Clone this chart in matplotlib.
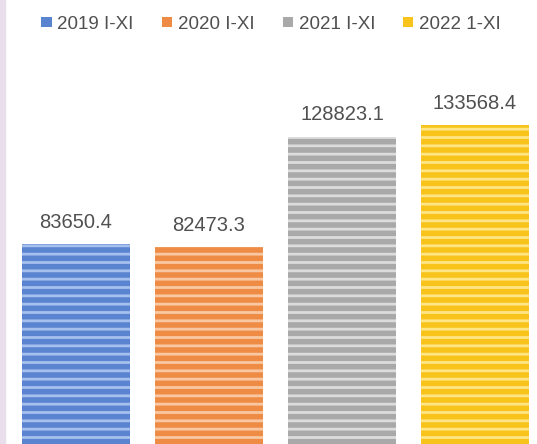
import matplotlib
matplotlib.use("Agg")
import matplotlib.pyplot as plt
from matplotlib.patches import Patch, Rectangle

# Data
labels = ["2019 I-XI", "2020 I-XI", "2021 I-XI", "2022 1-XI"]
values = [83650.4, 82473.3, 128823.1, 133568.4]
face_colors = ["#5A83D0", "#EE8C46", "#A9A9A9", "#F8C41C"]
stripe_colors = ["#A6C0EE", "#F9C8A2", "#DCDCDC", "#FFE585"]

plt.rcParams["font.family"] = ["Liberation Sans", "DejaVu Sans"]
plt.rcParams["hatch.linewidth"] = 2.0

fig = plt.figure(figsize=(5.37, 4.44), dpi=100)
fig.patches.append(Rectangle((0, 0), 5 / 537, 1, transform=fig.transFigure,
                             color="#E9DFEC", zorder=0))

ax = fig.add_axes([9.5 / 537, 0, 532 / 537, 384 / 444])
x = range(len(values))
bars = ax.bar(x, values, width=0.81, color=face_colors, edgecolor=stripe_colors,
              linewidth=0, hatch="--")

for xi, v in zip(x, values):
    ax.annotate(f"{v:.1f}", (xi, v), xytext=(0, 9), textcoords="offset points",
                ha="center", va="bottom", fontsize=14.5, color="#505050")

ax.set_xlim(-0.5, 3.5)
ax.set_ylim(0, 161000)
ax.axis("off")

handles = [Patch(facecolor=c, edgecolor="none") for c in face_colors]
fig.legend(handles, labels, loc="center", bbox_to_anchor=(0.505, 0.945), ncol=4,
           frameon=False, fontsize=13.5, handlelength=0.55, handleheight=0.45,
           handletextpad=0.3, columnspacing=1.5, labelcolor="#505050")

fig.savefig("out.png", dpi=100)
